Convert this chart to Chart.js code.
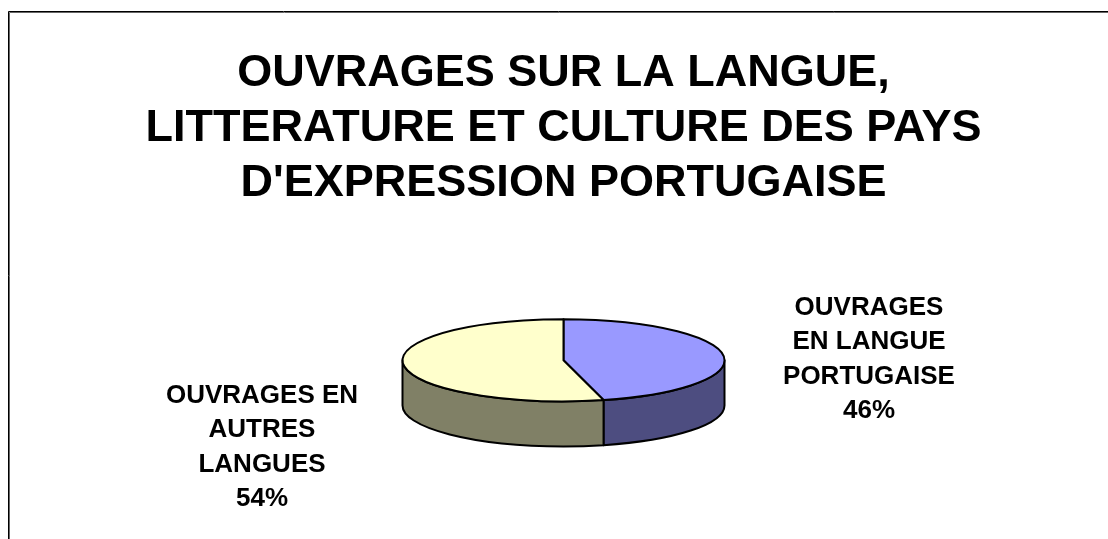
<!DOCTYPE html>
<html><head><meta charset="utf-8">
<script src="https://cdn.jsdelivr.net/npm/chart.js@4/dist/chart.umd.min.js"></script>
<style>html,body{margin:0;padding:0;background:#fff;}#wrap{position:relative;width:1108px;height:539px;}</style>
</head><body><div id="wrap"><canvas id="c" width="1108" height="539"></canvas></div>
<script>
const titleLines = ["OUVRAGES SUR LA LANGUE,", "LITTERATURE ET CULTURE DES PAYS", "D'EXPRESSION PORTUGAISE"];
const categories = ["OUVRAGES EN LANGUE PORTUGAISE", "OUVRAGES EN AUTRES LANGUES"];
const categoryLabelLines = [["OUVRAGES", "EN LANGUE", "PORTUGAISE"], ["OUVRAGES EN", "AUTRES", "LANGUES"]];
const values = [46, 54];

Chart.defaults.font.family = '"Liberation Sans", Arial, sans-serif';

const pie3d = {
  id: 'pie3d',
  beforeDraw(chart, args, opts) {
    const ctx = chart.ctx;
    ctx.save();
    ctx.fillStyle = '#fff';
    ctx.fillRect(0, 0, chart.width, chart.height);
    ctx.lineWidth = 1;
    ctx.strokeStyle = '#666';
    ctx.beginPath();
    ctx.moveTo(opts.frame.x + 1, chart.height + 5);
    ctx.lineTo(opts.frame.x + 1, opts.frame.y + 1);
    ctx.lineTo(chart.width + 5, opts.frame.y + 1);
    ctx.stroke();
    ctx.strokeStyle = '#000';
    ctx.beginPath();
    ctx.moveTo(opts.frame.x, chart.height + 5);
    ctx.lineTo(opts.frame.x, opts.frame.y);
    ctx.lineTo(chart.width + 5, opts.frame.y);
    ctx.stroke();
    ctx.restore();
  },
  beforeDatasetDraw(chart, args, opts) {
    const arcs = args.meta.data;
    if (!arcs.length) return false;
    const ctx = chart.ctx;
    const first = arcs[0];
    const rx = first.outerRadius;
    const ry = rx * opts.tilt;
    const depth = rx * opts.depth;
    const cx = first.x;
    const cy = first.y - depth / 2;
    ctx.save();
    ctx.lineWidth = opts.lineWidth;
    ctx.strokeStyle = '#000';
    ctx.lineJoin = 'round';
    // side walls (front half only)
    arcs.forEach((arc, i) => {
      const s = Math.max(arc.startAngle, 0);
      const e = Math.min(arc.endAngle, Math.PI);
      if (e <= s) return;
      ctx.beginPath();
      ctx.ellipse(cx, cy, rx, ry, 0, s, e, false);
      ctx.ellipse(cx, cy + depth, rx, ry, 0, e, s, true);
      ctx.closePath();
      ctx.fillStyle = opts.sideColors[i];
      ctx.fill();
      ctx.stroke();
    });
    // top faces
    arcs.forEach((arc) => {
      ctx.beginPath();
      ctx.moveTo(cx, cy);
      ctx.ellipse(cx, cy, rx, ry, 0, arc.startAngle, arc.endAngle, false);
      ctx.closePath();
      ctx.fillStyle = arc.options.backgroundColor;
      ctx.fill();
      ctx.stroke();
    });
    // labels
    const data = chart.data.datasets[args.index].data;
    const total = data.reduce((a, b) => a + b, 0);
    ctx.fillStyle = '#000';
    ctx.font = 'bold ' + opts.labelFont + 'px "Liberation Sans", Arial, sans-serif';
    ctx.textAlign = 'center';
    ctx.textBaseline = 'middle';
    const lh = opts.labelFont * opts.labelLineHeight;
    arcs.forEach((arc, i) => {
      const lines = categoryLabelLines[i].concat([Math.round(data[i] / total * 100) + '%']);
      const off = opts.labelOffsets[i];
      const bx = cx + off.dx, by = cy + off.dy;
      lines.forEach((t, j) => {
        ctx.fillText(t, bx, by + (j - (lines.length - 1) / 2) * lh);
      });
    });
    ctx.restore();
    return false;
  }
};

new Chart(document.getElementById('c'), {
  type: 'pie',
  data: {
    labels: categories,
    datasets: [{
      data: values,
      backgroundColor: ['#9999FF', '#FFFFCC'],
      borderWidth: 0,
      radius: 161
    }]
  },
  options: {
    responsive: false,
    animation: false,
    events: [],
    layout: { padding: { left: 19, right: 0, top: 0, bottom: 0 } },
    plugins: {
      legend: { display: false },
      tooltip: { enabled: false },
      title: {
        display: true,
        text: titleLines,
        color: '#000',
        font: { size: 45, weight: 'bold', lineHeight: 1.22 },
        padding: { top: 46.5, bottom: 15.5 }
      },
      pie3d: {
        frame: { x: 8.5, y: 11.5 },
        tilt: 0.255,
        depth: 0.28,
        lineWidth: 2,
        sideColors: ['#4D4D80', '#808066'],
        labelFont: 26,
        labelLineHeight: 1.31,
        labelOffsets: [{ dx: 305.5, dy: -1 }, { dx: -301.5, dy: 87 }]
      }
    }
  },
  plugins: [pie3d]
});
</script>
</body></html>
